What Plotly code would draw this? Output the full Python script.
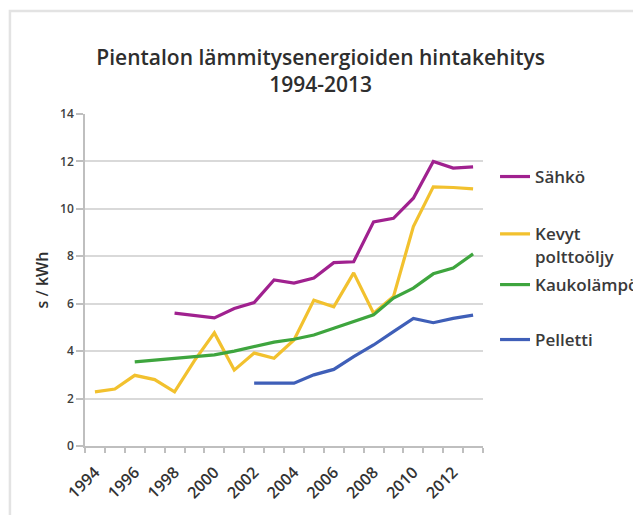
import plotly.graph_objects as go

years = list(range(1994, 2014))
sahko = [None, None, None, None, 5.6, 5.5, 5.4, 5.8, 6.05, 7.0, 6.87, 7.08, 7.73, 7.77, 9.45, 9.6, 10.45, 12.0, 11.72, 11.77]
kevyt = [2.28, 2.4, 2.98, 2.8, 2.28, 3.6, 4.77, 3.2, 3.92, 3.7, 4.47, 6.15, 5.87, 7.3, 5.6, 6.3, 9.25, 10.93, 10.9, 10.84]
kauko = [None, None, 3.55, 3.63, 3.7, 3.77, 3.84, 4.0, 4.2, 4.38, 4.5, 4.68, 4.97, 5.25, 5.53, 6.24, 6.66, 7.26, 7.5, 8.1]
pelletti = [None, None, None, None, None, None, None, None, 2.65, 2.65, 2.65, 3.0, 3.23, 3.77, 4.26, 4.82, 5.38, 5.2, 5.38, 5.52]

names = ["Sähkö", "Kevyt<br>polttoöljy", "Kaukolämpö", "Pelletti"]
colors = ["#A0218F", "#F2C12E", "#3EA53E", "#3F5FB8"]
series = [sahko, kevyt, kauko, pelletti]
legend_ids = ["legend", "legend2", "legend3", "legend4"]
legend_y = [0.6667, 0.532, 0.4536, 0.3452]

tick_years = years[::2]
font = "Open Sans"

# page body has an 8px margin; the figure is sized to fill the rest of the window
W, H = 633, 507

fig = go.Figure()
for name, col, vals, lid in zip(names, colors, series, legend_ids):
    fig.add_trace(go.Scatter(x=years, y=vals, mode="lines", name=name,
                             line=dict(color=col, width=3.2), legend=lid,
                             connectgaps=False))

leg_common = dict(xref="container", yref="container", x=0.7694, xanchor="left",
                  yanchor="middle", itemwidth=30, valign="top", bgcolor="rgba(0,0,0,0)",
                  font=dict(family=font, size=17, color="#3a3a3a", weight=600))
layout_legends = {}
for lid, ly in zip(legend_ids, legend_y):
    layout_legends[lid] = dict(leg_common, y=ly)

fig.update_layout(
    width=W, height=H,
    margin=dict(l=77, r=153, t=106, b=69),
    paper_bgcolor="white", plot_bgcolor="white",
    font=dict(family=font, color="#404040"),
    title=dict(text="Pientalon lämmitysenergioiden hintakehitys<br>1994-2013",
               xref="container", x=0.494, xanchor="center",
               yref="container", y=1 - 57 / H, yanchor="middle",
               font=dict(family=font, size=21, color="#2e2e2e", weight=600)),
    showlegend=True,
    **layout_legends,
)
fig.update_xaxes(range=[1993.5, 2013.5], tickvals=tick_years, ticktext=[str(y) for y in tick_years],
                 tickangle=-45, ticks="", showgrid=False, zeroline=False,
                 showline=True, linecolor="#BFBFBF", linewidth=1.5, ticklabelstandoff=9,
                 tickfont=dict(family=font, size=16, color="#333333", weight=600),
                 minor=dict(tick0=1993.5, dtick=1, ticks="outside", ticklen=5,
                            tickcolor="#BFBFBF", tickwidth=1.5, showgrid=False))
fig.update_yaxes(range=[0, 14], dtick=2, ticks="outside", ticklen=7, tickcolor="#BFBFBF",
                 tickwidth=1.5, showgrid=True, gridcolor="#D9D9D9", gridwidth=1.5,
                 zeroline=False, showline=True, linecolor="#BFBFBF", linewidth=1.5,
                 tickfont=dict(family=font, size=12, color="#404040", weight=600),
                 title=dict(text="s / kWh", font=dict(family=font, size=16, color="#2e2e2e", weight=600),
                            standoff=8))
fig.add_shape(type="rect", xref="paper", yref="paper", x0=-0.1886, x1=1.6, y0=-0.4, y1=1.31,
              line=dict(color="#E3E3E3", width=2.5), fillcolor="rgba(0,0,0,0)", layer="below")

fig.write_html("out.html")
